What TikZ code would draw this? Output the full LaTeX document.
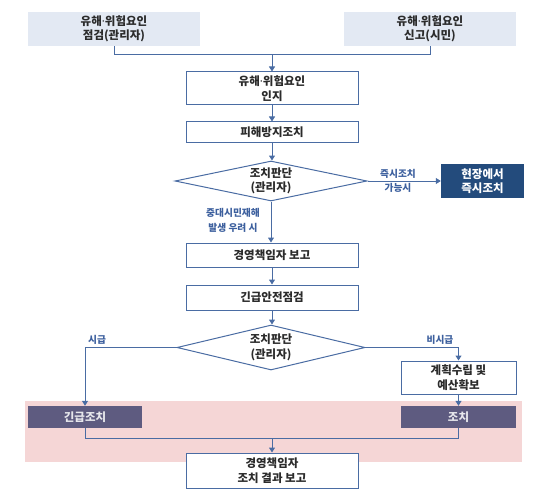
\documentclass[tikz,border=0pt]{standalone}
\usepackage{fontspec}
\setmainfont{Noto Sans CJK KR}
\newfontfamily\dotfont{Noto Sans}
\newcommand{\mdot}{{\dotfont\bfseries ·}}
\usetikzlibrary{arrows.meta,shapes.geometric}
\definecolor{lineblue}{HTML}{4A6CA3}
\definecolor{topfill}{HTML}{E3E9F3}
\definecolor{navy}{HTML}{234B7C}
\definecolor{purplebox}{HTML}{5E5B80}
\definecolor{pinkbg}{HTML}{F5D6D6}
\definecolor{labelblue}{HTML}{3D609E}
\definecolor{txt}{HTML}{2B2B2B}
\tikzset{
  every node/.style={font=\fontsize{11.5}{14.5}\selectfont\bfseries, text=txt, align=center, inner sep=0pt},
  topbox/.style={rectangle, fill=topfill, minimum width=172pt, minimum height=34pt},
  mainbox/.style={rectangle, draw=lineblue, line width=1pt, fill=white, minimum width=172pt},
  decision/.style={diamond, draw=lineblue, line width=1pt, fill=white},
  darkbox/.style={rectangle, fill=navy, text=white, minimum width=83pt, minimum height=34pt},
  actbox/.style={rectangle, fill=purplebox, text=white!85!purplebox, minimum width=114pt, minimum height=22pt},
  lbl/.style={font=\fontsize{9.7}{14.5}\selectfont\bfseries, text=labelblue},
  conn/.style={draw=lineblue, line width=1pt},
  arr/.style={conn, -{Triangle[length=5pt,width=6pt]}}
}
\begin{document}
\begin{tikzpicture}[x=1pt,y=-1pt]
\useasboundingbox (0,0) rectangle (551,500);
\fill[pinkbg] (25,401) rectangle (522,462);

\node[topbox] (tl) at (114,29) {유해\mdot 위험요인\\점검(관리자)};
\node[topbox] (tr) at (430,29) {유해\mdot 위험요인\\신고(시민)};
\node[mainbox, minimum height=33pt] (b1) at (272,88.5) {유해\mdot 위험요인\\인지};
\node[mainbox, minimum height=20pt] (b2) at (272,132) {피해방지조치};
\node[decision, minimum width=192pt, minimum height=40pt] (d1) at (271,181) {};
\node (d1t) at (d1.center) {조치판단\\(관리자)};
\node[darkbox] (now) at (482.5,181) {현장에서\\즉시조치};
\node[mainbox, minimum height=24pt] (b3) at (272,255) {경영책임자 보고};
\node[mainbox, minimum height=25pt] (b4) at (272,297.5) {긴급안전점검};
\node[decision, minimum width=188pt, minimum height=45pt] (d2) at (271,347.5) {};
\node (d2t) at (d2.center) {조치판단\\(관리자)};
\node[actbox] (urg) at (85,417) {긴급조치};
\node[mainbox, minimum width=115pt, minimum height=33pt] (plan) at (458.5,377.5) {계획수립 및\\예산확보};
\node[actbox, minimum width=115pt] (act) at (458.5,417) {조치};
\node[mainbox, minimum height=35pt] (fin) at (272,470.5) {경영책임자\\조치 결과 보고};

\coordinate (j1) at (272,55);
\coordinate (j2) at (272,438);

\draw[conn] (tl.south) |- (j1);
\draw[conn] (tr.south) |- (j1);
\draw[arr] (j1) -- (b1.north);
\draw[arr] (b1) -- (b2);
\draw[arr] (b2.south) -- (d1.north -| b2.south);
\draw[arr] (d1.east) -- (now.west);
\draw[arr] (d1.south) -- (b3.north -| d1.south);
\draw[arr] (b3) -- (b4);
\draw[arr] (b4.south) -- (d2.north -| b4.south);
\draw[arr] (d2.west) -| (urg.north);
\draw[arr] (d2.east) -| (plan.north);
\draw[arr] (plan) -- (act);
\draw[conn] (urg.south) |- (j2);
\draw[conn] (act.south) |- (j2);
\draw[arr] (j2) -- (fin.north);

\node[lbl] (l1) at (398,181) {즉시조치\\가능시};
\node[lbl] (l2) at (233,220.5) {중대시민재해\\발생 우려 시};
\node[lbl] (l3) at (97,340) {시급};
\node[lbl] (l4) at (440,340) {비시급};
\end{tikzpicture}
\end{document}
